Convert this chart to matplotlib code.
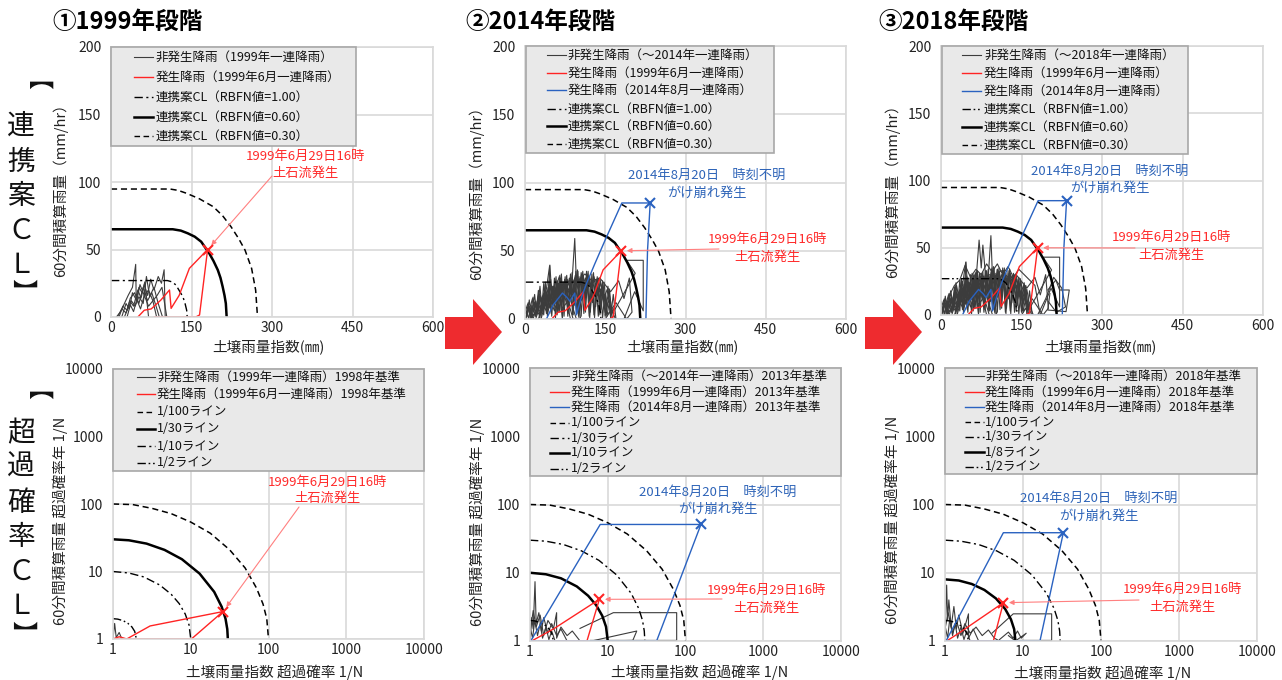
"""
Three-stage comparison of 連携案CL and 超過確率CL (1999 / 2014 / 2018)
"""
import matplotlib
matplotlib.use("Agg")
import matplotlib.pyplot as plt
from matplotlib.lines import Line2D
from matplotlib.patches import Rectangle, Polygon

plt.rcParams['font.family'] = ['Noto Sans CJK JP', 'DejaVu Sans']

W, H = 1282, 680

# ---------------- data: 連携案CL (x: 土壌雨量指数 mm, y: 60分間積算雨量 mm/hr)
TOP_XTICKS = [0, 150, 300, 450, 600]
TOP_YTICKS = [0, 50, 100, 150, 200]

CL100_X = [0, 105, 114, 121, 128, 134, 138, 141, 142]
CL100_Y = [27, 27, 26, 23.7, 19, 15, 10, 5, 0]
CL060_X = [0, 115, 130, 143, 156, 168, 183, 191, 199, 204, 208, 211.5, 214, 215.5]
CL060_Y = [65, 65, 64, 62, 59.5, 55.8, 47.2, 41.5, 34.8, 29, 22.5, 16, 10, 0]
CL030_X = [0, 110, 125, 141, 165, 190.6, 208, 223.6, 238, 249.7, 262, 269.5, 273]
CL030_Y = [94.8, 94.8, 93.8, 91.6, 87.5, 81.7, 75, 66.9, 58, 49.6, 36, 20, 0]

RED_TOP_X = [50, 62, 75, 93, 109, 112, 127, 146, 180, 165, 158, 81]
RED_TOP_Y = [0, 5, 6, 12.6, 20, 6.4, 16, 36, 50, 1.5, 0, 0]
BLUE_TOP_X = [40, 45, 52, 60, 70, 78, 84, 90, 93, 96, 104, 115, 130, 150, 181, 234, 229, 226, 120, 40]
BLUE_TOP_Y = [0, 4, 10, 14, 19, 16, 13, 17, 19, 3, 14, 26, 40, 58, 85, 85, 50, 0, 0, 0]

# non-occurrence rainfall, 1999 set
GRAY_1999 = [
    ([10, 18, 25, 32, 40, 46, 47, 52, 58, 63, 70], [0, 4, 10, 16, 22, 39, 12, 22, 18, 26, 0]),
    ([12, 20, 28, 35, 42, 50, 56, 62, 68, 74, 80, 88, 94, 99, 101],
     [0, 6, 3, 12, 8, 20, 14, 24, 16, 28, 20, 30, 25, 35, 0]),
    ([15, 22, 30, 36, 44, 52, 60, 68, 76, 84, 90], [0, 8, 5, 14, 18, 10, 22, 12, 18, 8, 0]),
    ([20, 28, 34, 40, 48, 54, 62, 70, 78, 86, 95, 104], [0, 10, 6, 18, 12, 24, 16, 20, 12, 16, 22, 0]),
    ([25, 30, 38, 45, 52, 60, 66, 72, 80, 88, 96], [0, 5, 12, 8, 15, 10, 30, 15, 22, 10, 0]),
    ([30, 36, 42, 48, 55, 62, 70, 78, 85], [0, 9, 4, 13, 6, 16, 8, 12, 0]),
]
# added up to 2014
GRAY_2014 = [
    ([0, 4, 8, 12, 18, 22, 28, 32, 38, 42, 48, 52, 58, 62, 68, 72, 78, 82, 88, 92, 98, 102, 108, 112,
      118, 122, 128, 132, 138, 142, 148, 152, 158, 162, 168],
     [10, 2, 14, 1, 18, 3, 24, 5, 27, 6, 29, 8, 31, 5, 33, 9, 32, 4, 34, 10, 36, 6, 35, 12, 35, 5, 34,
      9, 30, 7, 27, 4, 22, 3, 10]),
    ([2, 6, 10, 15, 20, 25, 30, 35, 40, 45, 50, 55, 60, 65, 70, 75, 80, 85, 90, 95, 100, 105, 110, 115,
      120, 125, 130, 135, 140, 145, 150, 155, 160, 165, 170],
     [0, 12, 1, 16, 2, 21, 1, 26, 4, 28, 2, 30, 3, 32, 1, 31, 2, 33, 3, 35, 2, 34, 4, 35, 2, 33, 1, 31,
      3, 28, 2, 24, 1, 18, 0]),
    ([1, 5, 9, 14, 21, 26, 33, 37, 44, 49, 54, 61, 66, 71, 77, 83, 87, 94, 99, 106, 111, 116, 124, 129,
      136, 141, 147, 154, 159, 166],
     [6, 11, 8, 15, 9, 19, 12, 22, 14, 25, 15, 28, 18, 27, 20, 30, 16, 32, 22, 33, 18, 33, 21, 31, 17,
      27, 15, 22, 10, 4]),
    ([3, 7, 11, 17, 23, 27, 34, 39, 46, 51, 57, 63, 69, 74, 81, 86, 93, 97, 104, 109, 114, 121, 126, 134,
      139, 144, 151, 157, 163, 168],
     [2, 9, 4, 12, 5, 17, 8, 21, 9, 24, 12, 26, 10, 29, 14, 28, 11, 31, 13, 32, 16, 31, 12, 29, 14, 25,
      11, 19, 6, 1]),
    ([0, 6, 9, 13, 16, 20, 24, 29, 31, 36, 39, 43, 47, 53, 56, 60, 64, 67, 73, 76, 79, 84, 89, 91, 96,
      101, 103, 107, 113, 117, 119, 123, 127, 131, 135, 139, 143, 146, 150, 153, 157, 161, 164],
     [4, 7, 3, 10, 5, 13, 7, 17, 10, 19, 12, 23, 15, 24, 16, 27, 19, 24, 26, 18, 29, 22, 28, 20, 31,
      23, 29, 24, 30, 21, 29, 23, 27, 18, 25, 20, 22, 14, 18, 9, 14, 5, 0]),
    ([1, 4, 7, 10, 13, 17, 20, 24, 27, 31, 35, 38, 42, 45, 49, 53, 57, 61, 65, 69, 73, 77, 81, 85, 89,
      93, 97, 101, 105, 109, 113, 117, 121, 125, 129, 133, 137, 141, 145, 149, 153, 157, 161],
     [1, 5, 0, 8, 1, 10, 2, 13, 1, 15, 3, 18, 2, 20, 4, 22, 1, 24, 5, 26, 2, 27, 6, 29, 3, 30, 4, 31,
      2, 30, 5, 29, 1, 27, 3, 26, 2, 22, 1, 18, 2, 11, 0]),
    ([40, 44, 46.5, 49, 55, 60, 64, 70, 88, 93, 96, 104, 112, 125, 140, 150],
     [10, 20, 39.5, 24, 18, 26, 31, 22, 28, 59, 27, 30, 33, 28, 30, 5]),
    ([150, 168, 206, 190, 221, 221, 205, 185], [3, 7, 33.5, 43, 43, 6, 20, 0]),
    ([100, 120, 140, 160, 175, 185, 195, 200, 190, 170, 150], [10, 25, 30, 20, 28, 15, 30, 5, 0, 12, 0]),
]
# added up to 2018
GRAY_2018 = [
    ([60, 66, 71, 75, 78, 84, 90], [20, 30, 55.7, 35, 52, 25, 30]),
    ([5, 15, 25, 35, 45, 55, 65, 75, 85, 95, 105, 115, 125, 135, 145, 155, 165, 175, 185],
     [0, 14, 22, 26, 37, 28, 34, 30, 38, 32, 38, 30, 36, 28, 34, 30, 26, 22, 0]),
    ([2, 8, 12, 18, 23, 29, 34, 40, 44, 50, 55, 61, 66, 72, 77, 83, 88, 94, 99, 105, 110, 116, 121,
      127, 132, 138, 143, 149, 154, 160, 165, 172],
     [3, 12, 6, 17, 9, 22, 11, 25, 13, 28, 12, 30, 15, 31, 13, 33, 16, 34, 14, 34, 17, 33, 13, 31, 15,
      29, 12, 25, 10, 19, 7, 0]),
    ([199, 214, 221, 239, 233, 199, 203], [18.6, 26, 18.6, 18.6, 2.5, 3.7, 16]),
    ([180, 195, 210, 225, 232, 215, 200], [0, 12, 28, 20, 6, 2, 10]),
]

# ---------------- data: 超過確率CL (x, y: 超過確率年 1/N)
LOG_TICKS = [1, 10, 100, 1000, 10000]
LOG_LABELS = ['1', '10', '100', '1000', '10000']

P100_X = [1, 1.8, 3.2, 5.6, 10, 17.8, 31.6, 50, 70, 85, 95, 100]
P100_Y = [100, 98, 86, 72, 54, 37, 21, 11.3, 5.7, 3.3, 2.0, 1]
P30_X = [1, 1.6, 2.7, 4.6, 7.7, 13, 20, 25, 28, 29.5, 30]
P30_Y = [30, 29, 25.9, 20.9, 15.2, 9.3, 5.0, 3.0, 2.0, 1.4, 1]
P10_X = [1, 1.6, 2.5, 4, 5.6, 7.1, 8.5, 9.5, 10]
P10_Y = [10, 9.5, 8.3, 6.3, 4.6, 3.35, 2.34, 1.62, 1]
P8_X = [1, 1.5, 2.2, 3.2, 4.5, 5.9, 7.0, 7.7, 8]
P8_Y = [8, 7.7, 6.85, 5.6, 4.2, 2.95, 2.08, 1.49, 1]
P2_X = [1, 1.15, 1.35, 1.55, 1.75, 1.9, 2]
P2_Y = [2, 1.97, 1.87, 1.71, 1.51, 1.30, 1]

RED_BL_X = [1, 1.2, 1.35, 1.5, 3, 26, 10.2, 1.5, 1]
RED_BL_Y = [1, 1.08, 1.04, 1, 1.56, 2.55, 1, 1, 1]
GRAY_BL = [([1, 1.05, 1.1, 1.2, 1.3], [1, 1.7, 1.05, 1.25, 1])]

RED_BM_X = [1.05, 2, 7.8, 5.4, 1.3]
RED_BM_Y = [1, 1.5, 4.08, 1, 1]
BLUE_BM_X = [1.02, 8, 158, 42.5, 1.02]
BLUE_BM_Y = [1, 51, 51, 1, 1]
GRAY_BM = [
    ([1, 1.05, 1.1, 1.16, 1.2, 1.3, 1.4, 1.5, 1.7, 1.9, 2.2, 2.5, 3],
     [1, 2.2, 1.5, 7.4, 1.8, 2.6, 1.4, 2.2, 1.3, 1.8, 1.2, 1.5, 1]),
    ([1, 1.1, 1.2, 1.35, 1.5, 1.7, 2.0, 2.2, 2.2, 2.5, 3, 3.5, 4.4],
     [1.3, 2.8, 1.6, 2.4, 1.2, 2.0, 1.5, 2.6, 1.1, 1.6, 1.2, 1.4, 1]),
    ([1, 1.08, 1.15, 1.25, 1.35, 1.45, 1.6, 1.75, 1.9, 2.1],
     [1.6, 1.1, 2.0, 1.2, 1.8, 1.1, 1.6, 1.05, 1.4, 1]),
    ([4.4, 11.8, 77, 77, 6], [1.53, 2.6, 2.6, 1.02, 1.02]),
    ([6.2, 23.6, 21, 8], [1.0, 1.4, 1.02, 1]),
]

RED_BR_X = [1.05, 1.5, 5.6, 4.17, 1.3]
RED_BR_Y = [1, 1.3, 3.64, 1, 1]
BLUE_BR_X = [1.03, 5.6, 32.9, 16.5, 1.03]
BLUE_BR_Y = [1, 38.6, 38.6, 1, 1]
GRAY_BR = [
    ([1, 1.03, 1.05, 1.08, 1.12, 1.2, 1.3, 1.4, 1.5, 1.7, 2.0, 2.0, 2.3, 2.7],
     [1, 3.5, 6.6, 2.0, 4.0, 1.6, 3.2, 1.5, 2.4, 1.3, 2.5, 1.1, 1.5, 1]),
    ([1, 1.1, 1.25, 1.4, 1.6, 1.8, 2.1, 2.5, 3, 3.6, 4.3, 5],
     [1.5, 2.6, 1.3, 2.0, 1.2, 1.8, 1.3, 1.6, 1.2, 1.45, 1.1, 1]),
    ([1, 1.08, 1.15, 1.25, 1.35, 1.45, 1.6, 1.75, 1.9, 2.1],
     [1.7, 1.1, 2.1, 1.2, 1.8, 1.1, 1.6, 1.05, 1.4, 1]),
    ([4, 7.5, 23.3, 23.3, 9], [1.3, 2.5, 2.5, 1.02, 1.02]),
    ([5, 6.5, 7.5, 8.5, 9.5, 11, 8, 6.5], [1.05, 1.35, 1.1, 1.4, 1.1, 1.3, 1.0, 1.2]),
]

# ---------------- styles
GRAY = dict(color='#3c3c3c', lw=0.8)
RED = dict(color='#ff2424', lw=1.0)
BLUE = dict(color='#2a62c0', lw=1.0)
DASH = dict(color='black', lw=1.1, ls=(0, (4, 2.5)))
DASHDOT = dict(color='black', lw=1.0, ls=(0, (6, 2.5, 1.5, 2.5)))
DASHDOTDOT = dict(color='black', lw=1.0, ls=(0, (6, 2, 1.2, 2, 1.2, 2)))
SOLID = dict(color='black', lw=1.8)
RED_TXT = '#ff2a2a'
BLUE_TXT = '#2e64b8'
GRID = '#d9d9d9'


def fx(px):
    return px / W


def fy(py):
    return 1 - py / H


def make_axes(fig, box):
    left, top, right, bottom = box
    return fig.add_axes([fx(left), fy(bottom), (right - left) / W, (bottom - top) / H])


def style_axes(ax):
    for s in ax.spines.values():
        s.set_color(GRID)
        s.set_linewidth(1.2)
    ax.grid(True, color=GRID, lw=1.2)
    ax.set_axisbelow(True)
    ax.tick_params(length=0, labelsize=10, colors='#222222')
    ax.tick_params(axis='y', pad=7)
    ax.tick_params(axis='x', pad=3)


def draw_key(fig, box, rows, handle, text_x, entries, fontsize=9):
    left, top, right, bottom = box
    fig.add_artist(Rectangle((fx(left), fy(bottom)), (right - left) / W, (bottom - top) / H,
                             transform=fig.transFigure, facecolor='#e9e9e9',
                             edgecolor='#a8a8a8', lw=1.2))
    for (label, style), y in zip(entries, rows):
        st = dict(style)
        if st.get('lw', 1) < 1.5:
            st['lw'] = min(st['lw'], 1.0)
        fig.add_artist(Line2D([fx(left + handle[0]), fx(left + handle[1])], [fy(y), fy(y)],
                              transform=fig.transFigure, **st))
        fig.text(fx(left + text_x), fy(y), label, ha='left', va='center',
                 fontsize=fontsize, color='#111111')


def mark_peak(ax, xs, ys, color):
    top = max(ys)
    i = max((k for k in range(len(ys)) if ys[k] == top), key=lambda k: xs[k])
    ax.plot([xs[i]], [ys[i]], marker='x', ms=7, mew=1.5, color=color, ls='none', zorder=5)
    return xs[i], ys[i]


def pointer(ax, xy, start_px, color):
    ax.annotate('', xy=xy, xycoords='data', xytext=(fx(start_px[0]), fy(start_px[1])),
                textcoords='figure fraction',
                arrowprops=dict(arrowstyle='-|>', color=color, lw=0.8,
                                mutation_scale=7, shrinkA=0, shrinkB=4))


def label_pair(fig, lines, color):
    for text, x, y in lines:
        fig.text(fx(x), fy(y), text, ha='center', va='center', fontsize=9.5, color=color)


fig = plt.figure(figsize=(W / 100, H / 100), dpi=100)

# ---------------- top row: 連携案CL
top_panels = [
    dict(box=(111, 47, 433, 317), gray=GRAY_1999, blue=False, cl100=DASHDOT,
         key_box=(111, 47, 356, 146), rows=[57, 77, 97, 117, 136], handle=(23, 42), tx=45,
         names=['非発生降雨（1999年一連降雨）', '発生降雨（1999年6月一連降雨）']),
    dict(box=(525, 46, 846, 319), gray=GRAY_1999 + GRAY_2014, blue=True, cl100=DASHDOT,
         key_box=(526, 46, 774, 153), rows=[55, 73, 90, 109, 126, 144], handle=(21, 40), tx=42,
         names=['非発生降雨（～2014年一連降雨）', '発生降雨（1999年6月一連降雨）',
                '発生降雨（2014年8月一連降雨）']),
    dict(box=(941, 46, 1263, 315), gray=GRAY_1999 + GRAY_2014 + GRAY_2018, blue=True,
         cl100=DASHDOTDOT,
         key_box=(942, 46, 1188, 154), rows=[55, 73, 91, 109, 127, 145], handle=(20, 39), tx=42,
         names=['非発生降雨（～2018年一連降雨）', '発生降雨（1999年6月一連降雨）',
                '発生降雨（2014年8月一連降雨）']),
]

top_axes = []
for p in top_panels:
    ax = make_axes(fig, p['box'])
    style_axes(ax)
    for xs, ys in p['gray']:
        ax.plot(xs, ys, **GRAY)
    ax.plot(CL100_X, CL100_Y, **p['cl100'])
    ax.plot(CL060_X, CL060_Y, **SOLID)
    ax.plot(CL030_X, CL030_Y, **DASH)
    ax.plot(RED_TOP_X, RED_TOP_Y, **RED)
    if p['blue']:
        ax.plot(BLUE_TOP_X, BLUE_TOP_Y, **BLUE)
    ax.set_xlim(0, 600)
    ax.set_ylim(0, 200)
    ax.set_xticks(TOP_XTICKS)
    ax.set_yticks(TOP_YTICKS)
    styles = [GRAY, RED] + ([BLUE] if p['blue'] else []) + [p['cl100'], SOLID, DASH]
    labels = p['names'] + ['連携案CL（RBFN値=1.00）', '連携案CL（RBFN値=0.60）', '連携案CL（RBFN値=0.30）']
    draw_key(fig, p['key_box'], p['rows'], p['handle'], p['tx'], list(zip(labels, styles)))
    top_axes.append(ax)

# event markers and notes, top row
red_peak = mark_peak(top_axes[0], RED_TOP_X, RED_TOP_Y, '#ff2424')
pointer(top_axes[0], red_peak, (272, 176), '#ff8080')
label_pair(fig, [('1999年6月29日16時', 305, 156), ('土石流発生', 305, 173)], RED_TXT)

for ax, red_txt, red_start, blue_txt in [
        (top_axes[1], (767, 239, 257), (719, 249), (707, 175, 193)),
        (top_axes[2], (1171, 237, 255), (1135, 248), (1110, 171, 188))]:
    red_peak = mark_peak(ax, RED_TOP_X, RED_TOP_Y, '#ff2424')
    mark_peak(ax, BLUE_TOP_X, BLUE_TOP_Y, BLUE['color'])
    pointer(ax, red_peak, red_start, '#ff8080')
    label_pair(fig, [('1999年6月29日16時', red_txt[0], red_txt[1]),
                     ('土石流発生', red_txt[0], red_txt[2])], RED_TXT)
    label_pair(fig, [('2014年8月20日　時刻不明', blue_txt[0], blue_txt[1]),
                     ('がけ崩れ発生', blue_txt[0], blue_txt[2])], BLUE_TXT)

# ---------------- bottom row: 超過確率CL
bottom_panels = [
    dict(box=(113, 369, 424, 639), gray=GRAY_BL, red=(RED_BL_X, RED_BL_Y), blue=None,
         curves=[(P100_X, P100_Y, DASH, '1/100ライン'), (P30_X, P30_Y, SOLID, '1/30ライン'),
                 (P10_X, P10_Y, DASHDOT, '1/10ライン'), (P2_X, P2_Y, DASHDOTDOT, '1/2ライン')],
         key_box=(113, 369, 424, 471), rows=[377, 394, 412, 429, 446, 463], handle=(24, 42), tx=44,
         names=['非発生降雨（1999年一連降雨）1998年基準', '発生降雨（1999年6月一連降雨）1998年基準']),
    dict(box=(530, 368, 841, 641), gray=GRAY_BM, red=(RED_BM_X, RED_BM_Y),
         blue=(BLUE_BM_X, BLUE_BM_Y),
         curves=[(P100_X, P100_Y, DASH, '1/100ライン'), (P30_X, P30_Y, DASHDOT, '1/30ライン'),
                 (P10_X, P10_Y, SOLID, '1/10ライン'), (P2_X, P2_Y, DASHDOTDOT, '1/2ライン')],
         key_box=(530, 368, 841, 476), rows=[376, 392, 407, 423, 438, 453, 469], handle=(20, 39),
         tx=41,
         names=['非発生降雨（～2014年一連降雨）2013年基準', '発生降雨（1999年6月一連降雨）2013年基準',
                '発生降雨（2014年8月一連降雨）2013年基準']),
    dict(box=(945, 368, 1257, 641), gray=GRAY_BR, red=(RED_BR_X, RED_BR_Y),
         blue=(BLUE_BR_X, BLUE_BR_Y),
         curves=[(P100_X, P100_Y, DASH, '1/100ライン'), (P30_X, P30_Y, DASHDOT, '1/30ライン'),
                 (P8_X, P8_Y, SOLID, '1/8ライン'), (P2_X, P2_Y, DASHDOTDOT, '1/2ライン')],
         key_box=(945, 368, 1257, 474), rows=[376, 392, 407, 422, 437, 452, 467], handle=(20, 39),
         tx=40,
         names=['非発生降雨（～2018年一連降雨）2018年基準', '発生降雨（1999年6月一連降雨）2018年基準',
                '発生降雨（2014年8月一連降雨）2018年基準']),
]

bottom_axes = []
for p in bottom_panels:
    ax = make_axes(fig, p['box'])
    ax.set_xscale('log')
    ax.set_yscale('log')
    style_axes(ax)
    for xs, ys in p['gray']:
        ax.plot(xs, ys, **GRAY)
    for xs, ys, st, _ in p['curves']:
        ax.plot(xs, ys, **st)
    ax.plot(*p['red'], **RED)
    if p['blue'] is not None:
        ax.plot(*p['blue'], **BLUE)
    ax.set_xlim(1, 10000)
    ax.set_ylim(1, 10000)
    ax.set_xticks(LOG_TICKS, labels=LOG_LABELS)
    ax.set_yticks(LOG_TICKS, labels=LOG_LABELS)
    ax.minorticks_off()
    styles = [GRAY, RED] + ([BLUE] if p['blue'] is not None else []) + [c[2] for c in p['curves']]
    labels = p['names'] + [c[3] for c in p['curves']]
    draw_key(fig, p['key_box'], p['rows'], p['handle'], p['tx'], list(zip(labels, styles)))
    bottom_axes.append(ax)

red_peak = mark_peak(bottom_axes[0], RED_BL_X, RED_BL_Y, '#ff2424')
pointer(bottom_axes[0], red_peak, (299, 507), '#ff8080')
label_pair(fig, [('1999年6月29日16時', 327, 482), ('土石流発生', 327, 498)], RED_TXT)

for ax, p, red_txt, red_start, blue_txt in [
        (bottom_axes[1], bottom_panels[1], (766, 590, 608), (722, 599), (718, 492, 509)),
        (bottom_axes[2], bottom_panels[2], (1182, 589, 607), (1139, 600), (1099, 498, 516))]:
    red_peak = mark_peak(ax, p['red'][0], p['red'][1], '#ff2424')
    mark_peak(ax, p['blue'][0], p['blue'][1], BLUE['color'])
    pointer(ax, red_peak, red_start, '#ff8080')
    label_pair(fig, [('1999年6月29日16時', red_txt[0], red_txt[1]),
                     ('土石流発生', red_txt[0], red_txt[2])], RED_TXT)
    label_pair(fig, [('2014年8月20日　時刻不明', blue_txt[0], blue_txt[1]),
                     ('がけ崩れ発生', blue_txt[0], blue_txt[2])], BLUE_TXT)

# ---------------- axis titles
for x, y in [(60, 187), (476, 190), (892, 188)]:
    fig.text(fx(x), fy(y), '60分間積算雨量（mm/hr）', rotation=90, ha='center', va='center',
             fontsize=10.5, color='#222222')
for x, y in [(60, 521), (477, 522), (892, 520)]:
    fig.text(fx(x), fy(y), '60分間積算雨量 超過確率年 1/N', rotation=90, ha='center', va='center',
             fontsize=10.5, color='#222222')
for x, y in [(268, 347), (682, 347), (1100, 347)]:
    fig.text(fx(x), fy(y), '土壌雨量指数(㎜)', ha='center', va='center', fontsize=10.5,
             color='#222222')
for x, y in [(275, 672), (700, 672), (1103, 673)]:
    fig.text(fx(x), fy(y), '土壌雨量指数 超過確率 1/N', ha='center', va='center', fontsize=10.5,
             color='#222222')

# stage titles
for x, t in [(52, '①1999年段階'), (465, '②2014年段階'), (878, '③2018年段階')]:
    fig.text(fx(x), fy(22), t, ha='left', va='center', fontsize=17, fontweight='bold')

# side labels (vertical); brackets are turned a quarter and nudged so the ink sits in place
side_chars = [('連', 126), ('携', 162), ('案', 196), ('Ｃ', 231), ('Ｌ', 265),
              ('超', 433), ('過', 467), ('確', 503), ('率', 537), ('Ｃ', 572), ('Ｌ', 606)]
side_brackets = [('【', 98 - 5), ('】', 285 + 5), ('【', 408 - 5), ('】', 627 + 5)]
for ch, y in side_chars:
    fig.text(fx(21), fy(y), ch, ha='center', va='center', fontsize=20, color='#111111')
for ch, y in side_brackets:
    fig.text(fx(21), fy(y), ch, ha='center', va='center', fontsize=18, rotation=-90,
             color='#111111')

# red block arrows between stages
for dx in [0, 420]:
    pts = [(445, 317), (473, 317), (473, 299), (502, 332), (473, 365), (473, 349), (445, 349)]
    fig.add_artist(Polygon([(fx(x + dx), fy(y)) for x, y in pts], closed=True,
                           transform=fig.transFigure, facecolor='#ee2b2f', edgecolor='none'))

fig.savefig('out.png', dpi=100)
print('saved out.png')
